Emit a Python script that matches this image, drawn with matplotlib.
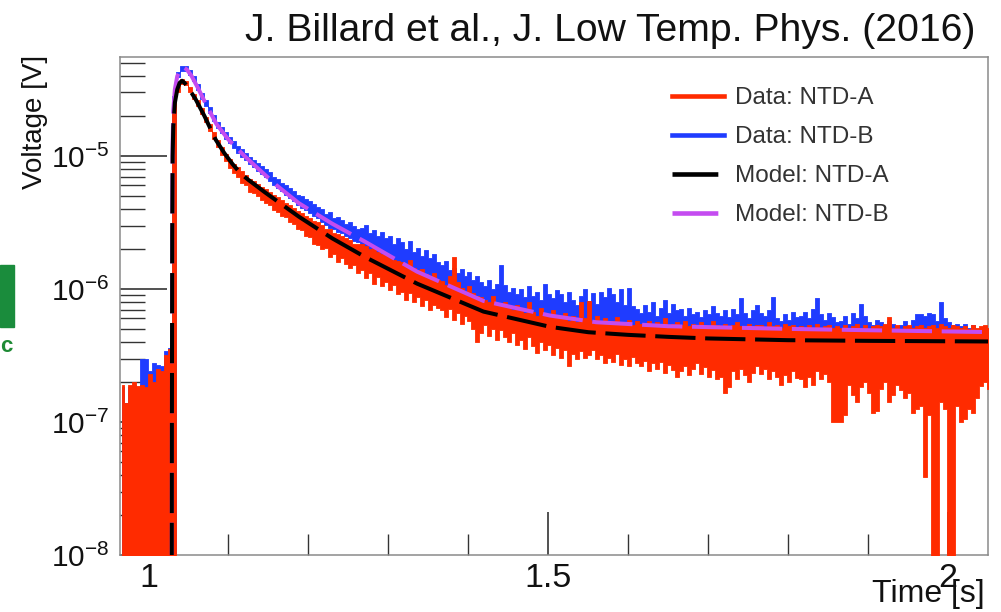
import numpy as np
import matplotlib
matplotlib.use('Agg')
import matplotlib.pyplot as plt
import matplotlib.ticker as mticker
from matplotlib.lines import Line2D
from matplotlib.patches import Rectangle

plt.rcParams['font.family'] = ['Liberation Sans', 'DejaVu Sans']
plt.rcParams['mathtext.fontset'] = 'custom'
plt.rcParams['mathtext.rm'] = 'Liberation Sans'
plt.rcParams['mathtext.it'] = 'Liberation Sans:italic'
plt.rcParams['mathtext.bf'] = 'Liberation Sans:bold'
plt.rcParams['mathtext.default'] = 'regular'

# ---------------- data (log10 of voltage [V]) ----------------
# sampled traces: bins of 5 ms starting at t = 0.9665 s; upper / lower noise edges
T_START = 0.9665
T_STEP = 0.005

red_hi = [
    -6.72, -6.86, -6.72, -6.70, -6.73, -6.72, -6.74, -6.64, -6.70, -6.60,
    -6.62, -6.50, -6.45, -4.66, -4.47, -4.42, -4.44, -4.485, -4.535, -4.58,
    -4.64, -4.705, -4.76, -4.82, -4.88, -4.93, -4.985, -5.025, -5.06, -5.085,
    -5.115, -5.14, -5.17, -5.19, -5.21, -5.235, -5.25, -5.27, -5.29, -5.31,
    -5.33, -5.35, -5.37, -5.39, -5.415, -5.43, -5.45, -5.47, -5.49, -5.50,
    -5.52, -5.55, -5.55, -5.58, -5.59, -5.60, -5.62, -5.63, -5.66, -5.66,
    -5.66, -5.68, -5.70, -5.69, -5.72, -5.74, -5.73, -5.77, -5.78, -5.79,
    -5.80, -5.82, -5.78, -5.84, -5.86, -5.85, -5.89, -5.90, -5.88, -5.93,
    -5.94, -5.97, -5.90, -5.76, -5.95, -5.99, -6.02, -5.98, -6.03, -6.05,
    -6.06, -6.08, -6.10, -6.05, -6.11, -6.13, -6.10, -6.14, -6.16, -6.12,
    -6.15, -6.18, -6.10, -6.17, -6.20, -6.14, -6.19, -6.21, -6.16, -6.20,
    -6.22, -6.18, -6.24, -6.20, -6.25, -6.10, -6.22, -6.09, -6.24, -6.20,
    -6.25, -6.22, -6.26, -6.24, -6.21, -6.26, -6.25, -6.23, -6.27, -6.24,
    -6.26, -6.28, -6.24, -6.27, -6.25, -6.28, -6.22, -6.27, -6.26, -6.25,
    -6.27, -6.24, -6.28, -6.26, -6.29, -6.25, -6.27, -6.28, -6.24, -6.27,
    -6.28, -6.26, -6.29, -6.27, -6.25, -6.28, -6.29, -6.26, -6.28, -6.27,
    -6.27, -6.29, -6.25, -6.28, -6.27, -6.29, -6.26, -6.28, -6.27, -6.29,
    -6.28, -6.30, -6.27, -6.29, -6.26, -6.30, -6.28, -6.27, -6.29, -6.28,
    -6.29, -6.27, -6.30, -6.28, -6.26, -6.29, -6.27, -6.30, -6.28, -6.27,
    -6.28, -6.26, -6.21, -6.29, -6.27, -6.30, -6.28, -6.27, -6.29, -6.28,
    -6.27, -6.29, -6.28, -6.27, -6.29, -6.26, -6.28, -6.29, -6.27, -6.28,
    -6.29, -6.28, -6.30, -6.27, -6.29, -6.28, -6.27, -6.29,
]

red_lo = [
    -9.0, -9.0, -9.0, -9.0, -9.0, -9.0, -9.0, -9.0, -9.0, -9.0,
    -9.0, -9.0, -9.0, -9.0, -4.52, -4.46, -4.47, -4.52, -4.57, -4.625,
    -4.685, -4.745, -4.81, -4.875, -4.93, -4.99, -5.04, -5.09, -5.13, -5.16,
    -5.20, -5.22, -5.27, -5.28, -5.30, -5.33, -5.35, -5.37, -5.41, -5.42,
    -5.45, -5.46, -5.50, -5.51, -5.55, -5.56, -5.60, -5.61, -5.66, -5.67,
    -5.70, -5.69, -5.76, -5.74, -5.80, -5.77, -5.81, -5.84, -5.82, -5.88,
    -5.86, -5.92, -5.88, -5.96, -5.91, -5.98, -5.95, -6.01, -5.97, -6.04,
    -6.02, -6.08, -6.03, -6.10, -6.06, -6.13, -6.08, -6.16, -6.12, -6.14,
    -6.16, -6.21, -6.15, -6.23, -6.18, -6.26, -6.20, -6.24, -6.30, -6.40,
    -6.33, -6.27, -6.35, -6.30, -6.38, -6.31, -6.36, -6.40, -6.33, -6.42,
    -6.38, -6.45, -6.36, -6.43, -6.48, -6.40, -6.46, -6.42, -6.50, -6.44,
    -6.52, -6.46, -6.58, -6.49, -6.53, -6.47, -6.52, -6.50, -6.46, -6.53,
    -6.50, -6.56, -6.52, -6.55, -6.49, -6.57, -6.53, -6.58, -6.51, -6.56,
    -6.58, -6.54, -6.62, -6.56, -6.60, -6.55, -6.63, -6.57, -6.61, -6.66,
    -6.62, -6.58, -6.65, -6.60, -6.56, -6.64, -6.59, -6.66, -6.61, -6.68,
    -6.66, -6.78, -6.74, -6.62, -6.68, -6.60, -6.65, -6.70, -6.63, -6.58,
    -6.64, -6.60, -6.68, -6.62, -6.66, -6.72, -6.65, -6.70, -6.62, -6.67,
    -6.68, -6.74, -6.66, -6.72, -6.62, -6.68, -6.64, -6.70, -7.00, -7.00,
    -7.00, -6.95, -6.72, -6.80, -6.85, -6.74, -6.70, -6.78, -6.93, -6.92,
    -6.75, -6.70, -6.85, -6.80, -6.72, -6.76, -6.82, -6.78, -6.93, -6.90,
    -6.88, -7.41, -6.95, -9.0, -9.0, -6.85, -6.90, -9.0, -9.0, -6.88,
    -7.00, -6.98, -6.90, -6.93, -6.82, -6.73, -6.70, -6.75,
]

blue_hi = [
    -6.74, -6.86, -6.74, -6.72, -6.74, -6.53, -6.53, -6.62, -6.56, -6.57,
    -6.58, -6.47, -6.44, -4.55, -4.37, -4.32, -4.32, -4.355, -4.40, -4.46,
    -4.525, -4.58, -4.63, -4.69, -4.745, -4.78, -4.82, -4.86, -4.89, -4.925,
    -4.95, -4.98, -5.005, -5.03, -5.05, -5.075, -5.10, -5.12, -5.155, -5.17,
    -5.20, -5.22, -5.24, -5.26, -5.29, -5.30, -5.32, -5.34, -5.36, -5.38,
    -5.40, -5.44, -5.42, -5.47, -5.46, -5.48, -5.51, -5.50, -5.53, -5.55,
    -5.54, -5.52, -5.58, -5.56, -5.60, -5.57, -5.62, -5.60, -5.66, -5.62,
    -5.65, -5.70, -5.64, -5.72, -5.69, -5.75, -5.71, -5.77, -5.74, -5.80,
    -5.82, -5.79, -5.86, -5.84, -5.88, -5.85, -5.90, -5.87, -5.93, -5.90,
    -5.95, -5.98, -5.93, -6.00, -5.96, -5.82, -5.97, -6.02, -5.99, -6.04,
    -6.00, -6.06, -5.98, -6.05, -6.02, -6.08, -5.96, -6.04, -6.07, -6.01,
    -6.04, -6.10, -6.02, -6.08, -6.12, -6.05, -6.00, -6.09, -6.03, -6.11,
    -6.02, -6.06, -5.99, -6.04, -6.10, -6.00, -6.12, -5.99, -6.13, -6.15,
    -6.18, -6.12, -6.17, -6.10, -6.20, -6.14, -6.08, -6.18, -6.11, -6.16,
    -6.15, -6.20, -6.14, -6.19, -6.17, -6.21, -6.16, -6.19, -6.13, -6.18,
    -6.20, -6.16, -6.21, -6.15, -6.19, -6.07, -6.18, -6.22, -6.16, -6.12,
    -6.18, -6.20, -6.16, -6.06, -6.22, -6.24, -6.19, -6.23, -6.17, -6.21,
    -6.20, -6.17, -6.22, -6.15, -6.07, -6.19, -6.23, -6.18, -6.21, -6.25,
    -6.24, -6.20, -6.26, -6.18, -6.22, -6.11, -6.20, -6.25, -6.27, -6.23,
    -6.25, -6.28, -6.24, -6.26, -6.29, -6.27, -6.24, -6.28, -6.23, -6.19,
    -6.19, -6.20, -6.18, -6.19, -6.24, -6.10, -6.22, -6.25, -6.27, -6.26,
    -6.28, -6.26, -6.29, -6.27, -6.30, -6.29, -6.28, -6.30,
]

blue_lo = [
    -9.0, -9.0, -9.0, -9.0, -9.0, -9.0, -9.0, -9.0, -9.0, -9.0,
    -9.0, -9.0, -9.0, -9.0, -4.41, -4.36, -4.36, -4.39, -4.44, -4.505,
    -4.57, -4.625, -4.68, -4.74, -4.79, -4.83, -4.87, -4.905, -4.94, -4.975,
    -5.01, -5.03, -5.06, -5.085, -5.11, -5.135, -5.16, -5.19, -5.215, -5.24,
    -5.265, -5.29, -5.315, -5.34, -5.365, -5.39, -5.41, -5.43, -5.45, -5.47,
    -5.50, -5.52, -5.54, -5.55, -5.57, -5.58, -5.60, -5.62, -5.64, -5.65,
    -5.68, -5.70, -5.71, -5.73, -5.75, -5.77, -5.78, -5.80, -5.82, -5.84,
    -5.85, -5.87, -5.88, -5.90, -5.91, -5.93, -5.95, -5.96, -5.98, -5.99,
    -6.00, -6.02, -6.03, -6.05, -6.06, -6.07, -6.09, -6.10, -6.11, -6.12,
    -6.13, -6.14, -6.15, -6.16, -6.17, -6.18, -6.19, -6.20, -6.21, -6.22,
    -6.23, -6.23, -6.24, -6.25, -6.25, -6.26, -6.27, -6.27, -6.28, -6.28,
    -6.34, -6.36, -6.35, -6.37, -6.36, -6.38, -6.37, -6.39, -6.38, -6.40,
    -6.38, -6.40, -6.39, -6.41, -6.40, -6.42, -6.40, -6.41, -6.42, -6.40,
    -6.41, -6.43, -6.42, -6.40, -6.43, -6.41, -6.42, -6.44, -6.42, -6.43,
    -6.42, -6.44, -6.43, -6.41, -6.44, -6.42, -6.43, -6.45, -6.43, -6.42,
    -6.44, -6.43, -6.45, -6.42, -6.44, -6.43, -6.45, -6.44, -6.42, -6.44,
    -6.43, -6.45, -6.44, -6.42, -6.45, -6.43, -6.44, -6.46, -6.43, -6.44,
    -6.45, -6.43, -6.44, -6.46, -6.44, -6.43, -6.45, -6.44, -6.46, -6.43,
    -6.44, -6.46, -6.43, -6.45, -6.44, -6.46, -6.44, -6.43, -6.45, -6.44,
    -6.46, -6.44, -6.45, -6.43, -6.46, -6.44, -6.45, -6.44, -6.46, -6.45,
    -6.44, -6.46, -6.43, -6.45, -6.44, -6.46, -6.45, -6.44, -6.46, -6.45,
    -6.44, -6.46, -6.45, -6.44, -6.46, -6.45, -6.44, -6.46,
]

# model curves (time [s], log10 voltage)
model_a_t = [1.0290, 1.0293, 1.0297, 1.0302, 1.0310, 1.0330, 1.0360, 1.0390,
             1.0420, 1.0450, 1.0500, 1.0590, 1.0700, 1.0840, 1.0950, 1.1050,
             1.1150, 1.1250, 1.1350, 1.1460, 1.1880, 1.2300, 1.2710, 1.3360,
             1.4190, 1.5025, 1.5500, 1.6000, 1.6500, 1.7000, 1.8000, 1.9000,
             2.0600]
model_a_log = [-9.0, -7.0, -5.6, -5.0, -4.78, -4.60, -4.50, -4.45,
               -4.435, -4.45, -4.49, -4.574, -4.70, -4.877, -4.98, -5.06,
               -5.13, -5.18, -5.225, -5.275, -5.456, -5.62, -5.76, -5.96,
               -6.17, -6.285, -6.325, -6.345, -6.36, -6.372, -6.385, -6.39,
               -6.395]

model_b_t = [1.0290, 1.0293, 1.0297, 1.0302, 1.0310, 1.0330, 1.0360, 1.0400,
             1.0440, 1.0480, 1.0540, 1.0620, 1.0710, 1.0850, 1.1000, 1.1200,
             1.1380, 1.1600, 1.1880, 1.2300, 1.2710, 1.3360, 1.4190, 1.5025,
             1.5600, 1.6500, 1.8000, 1.9000, 2.0600]
model_b_log = [-9.0, -7.0, -5.5, -4.9, -4.66, -4.50, -4.40, -4.35,
               -4.335, -4.35, -4.40, -4.49, -4.60, -4.76, -4.877, -5.0,
               -5.10, -5.22, -5.355, -5.51, -5.645, -5.87, -6.09, -6.20,
               -6.25, -6.28, -6.30, -6.31, -6.325]

labels = ['Data: NTD-A', 'Data: NTD-B', 'Model: NTD-A', 'Model: NTD-B']
x_ticks = [1.0, 1.5, 2.0]
title = 'J. Billard et al., J. Low Temp. Phys. (2016)'

# ---------------- styling ----------------
RED = '#ff2b00'
BLUE = '#1f3cff'
MAG = '#c44cf0'
DASH = (0, (10.0, 2.4))

W, H = 1001, 612
fig = plt.figure(figsize=(W / 100, H / 100), dpi=100)
ax = fig.add_axes([119.5 / W, 1 - 555 / H, (988 - 119.5) / W, (555 - 57) / H])

t = T_START + T_STEP * np.arange(len(red_hi))
ax.fill_between(t, 10 ** np.array(blue_lo), 10 ** np.array(blue_hi), step='mid',
                color=BLUE, lw=0.6, zorder=2)
ax.fill_between(t, 10 ** np.array(red_lo), 10 ** np.array(red_hi), step='mid',
                color=RED, lw=0.6, zorder=3)
ax.plot(model_b_t, 10 ** np.array(model_b_log), color=MAG, lw=2.9, ls=DASH, zorder=4)
ax.plot(model_a_t, 10 ** np.array(model_a_log), color='black', lw=2.9, ls=DASH, zorder=5)

ax.set_yscale('log')
ax.set_ylim(1e-8, 10 ** -4.256)
ax.set_xlim(0.96375, 2.05)

ax.yaxis.set_major_locator(mticker.LogLocator(base=10, numticks=10))
ax.yaxis.set_minor_locator(mticker.LogLocator(base=10, subs=np.arange(2, 10), numticks=20))
ax.yaxis.set_minor_formatter(mticker.NullFormatter())
ax.xaxis.set_major_locator(mticker.FixedLocator(x_ticks))
ax.xaxis.set_minor_locator(mticker.MultipleLocator(0.1))
ax.xaxis.set_major_formatter(mticker.FuncFormatter(lambda v, p: '%g' % v))

ax.tick_params(axis='y', which='major', direction='in', length=34, width=1.1,
               labelsize=21.5, pad=7, color='#222222', labelcolor='#111111')
ax.tick_params(axis='y', which='minor', direction='in', length=18, width=1.0, color='#333333')
ax.tick_params(axis='x', which='major', direction='in', length=31, width=1.1,
               labelsize=24.5, pad=6, color='#222222', labelcolor='#111111')
ax.tick_params(axis='x', which='minor', direction='in', length=15, width=1.0, color='#333333')
for s in ax.spines.values():
    s.set_color('#8a8a8a')
    s.set_linewidth(1.1)

handles = [Line2D([], [], color=RED, lw=3.3),
           Line2D([], [], color=BLUE, lw=3.3),
           Line2D([], [], color='black', lw=3.3, ls=DASH),
           Line2D([], [], color=MAG, lw=3.3, ls=DASH)]
leg = ax.legend(handles, labels, loc='upper left', bbox_to_anchor=(672 / W, 1 - 87 / H),
                bbox_transform=fig.transFigure, frameon=False, fontsize=17.5,
                handlelength=2.14, handletextpad=0.45, labelspacing=0.7,
                borderpad=0, borderaxespad=0)
for txt in leg.get_texts():
    txt.set_color('#333333')

fig.text(975 / W, 1 - 31 / H, title, ha='right', va='center', fontsize=28.2, color='#111111')
fig.text(35 / W, 1 - 55 / H, 'Voltage [V]', rotation=90, ha='center', va='top',
         fontsize=20, color='#111111')
fig.text(985 / W, 1 - 594 / H, 'Time [s]', ha='right', va='center', fontsize=23,
         color='#111111')

# slide artefacts at the left edge
fig.patches.append(Rectangle((0, 1 - 327 / H), 14 / W, 62 / H, transform=fig.transFigure,
                             color='#1a8c3c'))
fig.text(0, 1 - 346 / H, 'c', color='#1e8a35', fontweight='bold', fontsize=16,
         va='center', ha='left')

fig.savefig('out.png', dpi=100)
